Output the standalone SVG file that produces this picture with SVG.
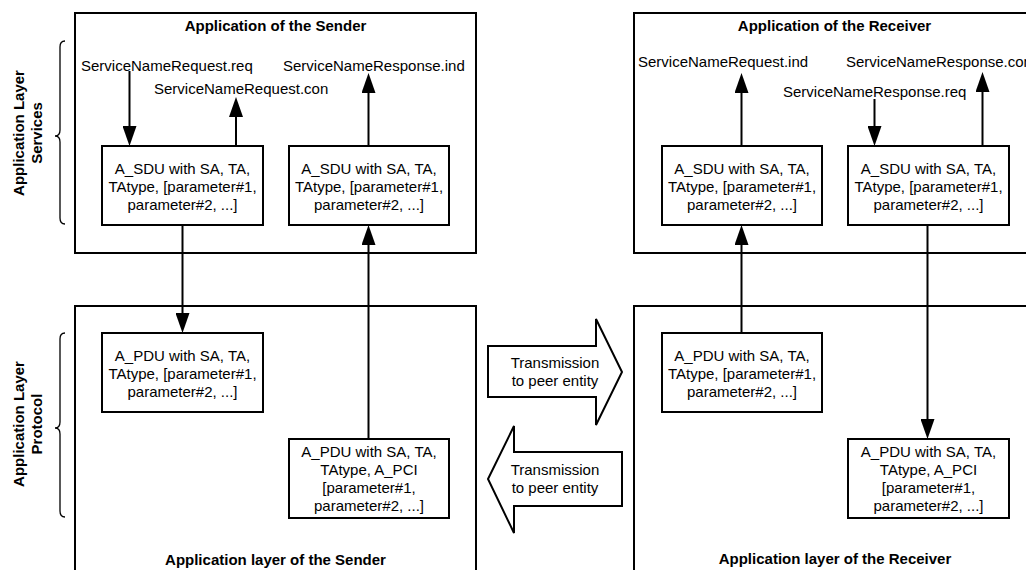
<svg xmlns="http://www.w3.org/2000/svg" width="1026" height="570" viewBox="0 0 1026 570">
<style>
text{font-family:"Liberation Sans",Arial,sans-serif;font-size:15px;fill:#000}
.b{font-weight:bold}
.c{text-anchor:middle}
.box{fill:#fff;stroke:#000;stroke-width:2}
.cont{fill:none;stroke:#000;stroke-width:2}
.ln{stroke:#000;stroke-width:2;fill:none;marker-end:url(#ah)}
.brace{fill:none;stroke:#000;stroke-width:1.3}
.blk{fill:#fff;stroke:#000;stroke-width:2;stroke-linejoin:miter}
</style>
<defs>
<marker id="ah" viewBox="0 0 20 14" refX="0" refY="7" markerWidth="20" markerHeight="14" markerUnits="userSpaceOnUse" orient="auto">
<path d="M0,0 L20,7 L0,14 Z" fill="#000"/>
</marker>
</defs>
<rect width="1026" height="570" fill="#fff"/>

<g id="side-labels">
<path class="brace" d="M65,41 Q60,41 60,47 L60,130 Q60,136 55,136 Q60,136 60,142 L60,218 Q60,224 65,224"/>
<text class="b c" transform="translate(24,133) rotate(-90)"><tspan x="0" y="0">Application Layer</tspan><tspan x="0" y="18">Services</tspan></text>
<path class="brace" d="M65,333 Q60,333 60,339 L60,422 Q60,428 55,428 Q60,428 60,434 L60,511 Q60,517 65,517"/>
<text class="b c" transform="translate(24,424) rotate(-90)"><tspan x="0" y="0">Application Layer</tspan><tspan x="0" y="18">Protocol</tspan></text>
</g>

<g id="sender-app">
<rect class="cont" x="75" y="13" width="401" height="240"/>
<text class="b c" x="275.5" y="31">Application of the Sender</text>
</g>
<g id="receiver-app">
<rect class="cont" x="634" y="13" width="401" height="240"/>
<text class="b c" x="834.5" y="31">Application of the Receiver</text>
</g>
<g id="sender-layer">
<rect class="cont" x="75" y="306" width="401" height="300"/>
<text class="b c" x="275.5" y="565">Application layer of the Sender</text>
</g>
<g id="receiver-layer">
<rect class="cont" x="634" y="306" width="401" height="300"/>
<text class="b c" x="835" y="564">Application layer of the Receiver</text>
</g>

<g id="labels">
<text x="81" y="71">ServiceNameRequest.req</text>
<text x="154" y="94">ServiceNameRequest.con</text>
<text x="283" y="71">ServiceNameResponse.ind</text>
<text x="638" y="67">ServiceNameRequest.ind</text>
<text x="846" y="67">ServiceNameResponse.con</text>
<text x="783" y="97">ServiceNameResponse.req</text>
</g>

<g id="s-sdu1">
<rect class="box" x="102" y="146" width="161" height="79"/>
<text class="c" x="182.5" y="173.5">A_SDU with SA, TA,</text>
<text class="c" x="182.5" y="191.5">TAtype, [parameter#1,</text>
<text class="c" x="182.5" y="209.5">parameter#2, ...]</text>
</g>
<g id="s-sdu2">
<rect class="box" x="289" y="146" width="160" height="79"/>
<text class="c" x="369" y="173.5">A_SDU with SA, TA,</text>
<text class="c" x="369" y="191.5">TAtype, [parameter#1,</text>
<text class="c" x="369" y="209.5">parameter#2, ...]</text>
</g>
<g id="r-sdu1">
<rect class="box" x="662" y="146" width="160" height="79"/>
<text class="c" x="742" y="173.5">A_SDU with SA, TA,</text>
<text class="c" x="742" y="191.5">TAtype, [parameter#1,</text>
<text class="c" x="742" y="209.5">parameter#2, ...]</text>
</g>
<g id="r-sdu2">
<rect class="box" x="848" y="146" width="161" height="79"/>
<text class="c" x="928.5" y="173.5">A_SDU with SA, TA,</text>
<text class="c" x="928.5" y="191.5">TAtype, [parameter#1,</text>
<text class="c" x="928.5" y="209.5">parameter#2, ...]</text>
</g>
<g id="s-pdu1">
<rect class="box" x="102" y="333" width="161" height="79"/>
<text class="c" x="182.5" y="360.5">A_PDU with SA, TA,</text>
<text class="c" x="182.5" y="378.5">TAtype, [parameter#1,</text>
<text class="c" x="182.5" y="396.5">parameter#2, ...]</text>
</g>
<g id="r-pdu1">
<rect class="box" x="662" y="333" width="160" height="79"/>
<text class="c" x="742" y="360.5">A_PDU with SA, TA,</text>
<text class="c" x="742" y="378.5">TAtype, [parameter#1,</text>
<text class="c" x="742" y="396.5">parameter#2, ...]</text>
</g>
<g id="s-pdu2">
<rect class="box" x="289" y="439" width="160" height="79"/>
<text class="c" x="369" y="457">A_PDU with SA, TA,</text>
<text class="c" x="369" y="475">TAtype, A_PCI</text>
<text class="c" x="369" y="493">[parameter#1,</text>
<text class="c" x="369" y="511">parameter#2, ...]</text>
</g>
<g id="r-pdu2">
<rect class="box" x="848" y="439" width="161" height="79"/>
<text class="c" x="928.5" y="457">A_PDU with SA, TA,</text>
<text class="c" x="928.5" y="475">TAtype, A_PCI</text>
<text class="c" x="928.5" y="493">[parameter#1,</text>
<text class="c" x="928.5" y="511">parameter#2, ...]</text>
</g>

<g id="transmit-right">
<polygon class="blk" points="488,346 596,346 596,319 622,372 596,425 596,397 488,397"/>
<text class="c" x="555" y="368">Transmission</text>
<text class="c" x="555" y="386">to peer entity</text>
</g>
<g id="transmit-left">
<polygon class="blk" points="622,452 514,452 514,426 488,479 514,533 514,506 622,506"/>
<text class="c" x="555" y="475">Transmission</text>
<text class="c" x="555" y="493">to peer entity</text>
</g>

<g id="connectors">
<path class="ln" d="M129.5,71 L129.5,126"/>
<path class="ln" d="M236,146 L236,117"/>
<path class="ln" d="M368.5,146 L368.5,93"/>
<path class="ln" d="M182.5,225 L182.5,313"/>
<path class="ln" d="M368.5,439 L368.5,245"/>
<path class="ln" d="M741.5,146 L741.5,93"/>
<path class="ln" d="M874.5,99 L874.5,126"/>
<path class="ln" d="M982.5,146 L982.5,92"/>
<path class="ln" d="M741.5,333 L741.5,245"/>
<path class="ln" d="M927.5,225 L927.5,419"/>
</g>
</svg>
